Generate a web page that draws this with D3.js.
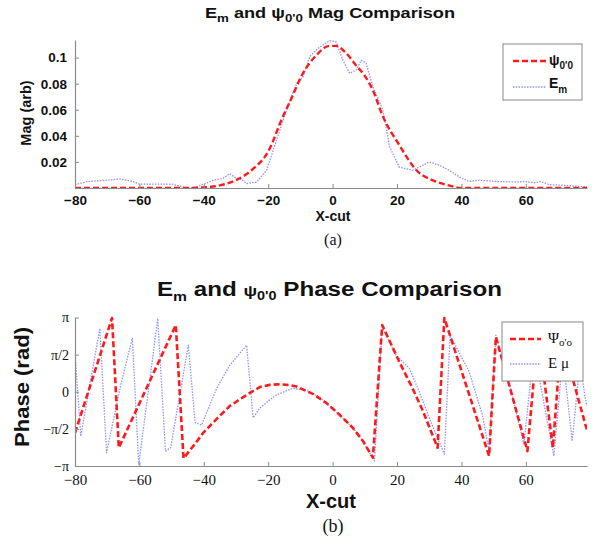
<!DOCTYPE html>
<html>
<head>
<meta charset="utf-8">
<script src="https://cdn.jsdelivr.net/npm/d3@7"></script>
<style>
  body { margin: 0; background: #fff; }
  svg { display: block; }
  .sans { font-family: "Liberation Sans", Arial, sans-serif; }
  .serif { font-family: "Liberation Serif", "Times New Roman", serif; }
</style>
</head>
<body>
<svg id="chart" width="598" height="540"></svg>
<script>
// x ticks shared by both panels
const xTicks = [-80, -60, -40, -20, 0, 20, 40, 60]

// (a) magnitude
const magTicks = [0.02, 0.04, 0.06, 0.08, 0.1]
const magPsiX = [-80, -45, -40, -35, -30, -25, -20, -15.4, -13.3, -9.2, -5, -1, 1, 4, 7.3, 10, 12.5, 15.6, 20.7, 25.9, 32, 36, 40, 79]
const magPsi = [0, 0, 0.0005, 0.002, 0.006, 0.014, 0.028, 0.055, 0.066, 0.088, 0.102, 0.109, 0.109, 0.104, 0.094, 0.086, 0.075, 0.055, 0.033, 0.014, 0.005, 0.002, 0, 0]
const magEmX = [-80, -76, -70, -66, -62, -60, -55, -50, -45, -42, -40, -37, -34, -32, -30, -28, -26.7, -23.6, -20.5, -17.4, -14.3, -11.2, -9.2, -7.1, -5, -4, -0.9, 1.1, 3.2, 5.3, 7.3, 8.9, 10.4, 12.5, 15.6, 17.7, 20.7, 24.8, 26.9, 30, 33.1, 36.2, 39.3, 42.4, 45.5, 50.7, 56.9, 59.4, 63, 64.6, 67.2, 72.3, 77.5, 79]
const magEm = [0.0026, 0.005, 0.006, 0.007, 0.005, 0.003, 0.003, 0.003, 0.0, 0.001, 0.003, 0.006, 0.0075, 0.011, 0.0078, 0.006, 0.0034, 0.0046, 0.0136, 0.0367, 0.0598, 0.080, 0.085, 0.1008, 0.106, 0.108, 0.113, 0.112, 0.098, 0.088, 0.0905, 0.098, 0.0957, 0.0777, 0.060, 0.0316, 0.016, 0.0136, 0.016, 0.020, 0.0175, 0.0136, 0.0085, 0.005, 0.006, 0.005, 0.0046, 0.005, 0.004, 0.005, 0.0026, 0.002, 0.001, 0.001]

// (b) phase
const phaseTicks = [-Math.PI, -Math.PI / 2, 0, Math.PI / 2, Math.PI]
const phaseTickLabels = ['\u2212\u03c0', '\u2212\u03c0/2', '0', '\u03c0/2', '\u03c0']
const phasePsiX = [-80, -68.5, -66.4, -48.7, -46.3, -43, -40.2, -36, -31.9, -28, -25.7, -22.6, -19.5, -16.4, -13.5, -11.2, -6, -2, 2, 6.3, 9.5, 12.5, 15.4, 20.7, 24.8, 28, 32.6, 34.7, 48.6, 50.7, 60.5, 63.8, 68.4, 71, 78.5, 79]
const phasePsi = [-1.74, 3.12, -2.37, 2.82, -2.82, -2.25, -1.74, -1.15, -0.6, -0.25, -0.05, 0.2, 0.29, 0.32, 0.28, 0.22, -0.1, -0.47, -0.95, -1.53, -2.1, -2.79, 2.82, 1.27, 0.15, -0.8, -2.37, 3.12, -2.72, 2.32, -2.51, 2.6, -2.37, 2.3, -1.39, -1.6]
const phaseEmX = [-80, -78.2, -72.3, -70.2, -65.8, -62.2, -60.2, -54.3, -51.9, -50.3, -44.8, -42.7, -40.7, -36, -31.9, -26.7, -24.7, -22.6, -19.5, -17.4, -12.3, -8, -4, -2, 2, 6.3, 9.5, 13, 15.4, 19.7, 23.8, 26.9, 30, 34.7, 36.5, 42.4, 46.5, 48.6, 50.7, 55, 59.4, 62.5, 68.7, 71.5, 74.4, 76.8, 78.5, 79]
const phaseEm = [1.62, -1.88, 2.68, -2.58, 0.29, 2.26, -3.07, 3.1, -2.51, -2.37, 1.97, -1.31, -1.41, 0.15, 1.13, 1.97, -1.1, -0.69, -0.34, -0.13, 0.15, 0.05, -0.25, -0.47, -0.95, -1.53, -2.1, -2.93, 2.74, 1.55, 1.0, 0.0, -1.1, -2.65, 2.39, 0.85, -0.97, -2.51, 2.39, 0.3, -2.23, 1.8, -2.72, 1.5, -2.09, 1.2, -0.3, -0.6]

const RED = '#ff1a1a'
const BLUE = '#9090ff'
const AXIS = '#8a8a8a'

const svg = d3.select('#chart')

const x = d3.scaleLinear().domain([-80, 79]).range([75, 587])
const yMag = d3.scaleLinear().domain([0, 0.1135]).range([188, 40])
const yPhase = d3.scaleLinear().domain([-Math.PI, Math.PI]).range([466, 317.5])

const zip = (xs, ys) => xs.map((v, i) => [v, ys[i]])

function panel(id, yScale, top, bottom, series) {
  svg.append('clipPath').attr('id', id)
    .append('rect').attr('x', 75).attr('y', top).attr('width', 512).attr('height', bottom - top)
  const g = svg.append('g').attr('clip-path', `url(#${id})`)
  series.forEach(s => {
    const line = d3.line().curve(s.curve || d3.curveLinear).x(d => x(d[0])).y(d => yScale(d[1]))
    g.append('path').datum(s.data)
      .attr('fill', 'none')
      .attr('stroke', s.color)
      .attr('stroke-width', s.width)
      .attr('stroke-dasharray', s.dash)
      .attr('stroke-linejoin', 'round')
      .attr('d', line)
  })
}

function styleAxis(g) {
  g.select('.domain').attr('stroke', AXIS).attr('stroke-width', 1.2)
  g.selectAll('.tick line').attr('stroke', AXIS)
  g.selectAll('.tick text').attr('fill', '#111')
}

// ---------- (a) ----------
panel('clipA', yMag, 38, 189, [
  { data: zip(magEmX, magEm), color: BLUE, width: 1.3, dash: '1.5,1.3' },
  { data: zip(magPsiX, magPsi), color: RED, width: 2.4, dash: '6,3', curve: d3.curveMonotoneX }
])

const axA = svg.append('g').attr('transform', 'translate(0,188)')
  .call(d3.axisBottom(x).tickValues(xTicks).tickSizeInner(-4).tickSizeOuter(0).tickPadding(7).tickFormat(d3.format('d')))
axA.selectAll('text').attr('class', 'sans').attr('font-size', 13.5).attr('font-weight', 'bold')
styleAxis(axA)

const ayA = svg.append('g').attr('transform', 'translate(75,0)')
  .call(d3.axisLeft(yMag).tickValues(magTicks).tickSizeInner(-4).tickSizeOuter(0).tickPadding(8).tickFormat(d => +d.toFixed(2) + ''))
ayA.selectAll('text').attr('class', 'sans').attr('font-size', 13.5).attr('font-weight', 'bold')
styleAxis(ayA)

const titleA = svg.append('text').attr('class', 'sans').attr('x', 205).attr('y', 18)
  .attr('textLength', 250).attr('lengthAdjust', 'spacingAndGlyphs')
  .attr('font-size', 15).attr('font-weight', 'bold').attr('fill', '#111')
titleA.append('tspan').text('E')
titleA.append('tspan').attr('dy', 4).attr('font-size', 11).text('m')
titleA.append('tspan').attr('dy', -4).text(' and \u03c8')
titleA.append('tspan').attr('dy', 4).attr('font-size', 11).text("0'0")
titleA.append('tspan').attr('dy', -4).text(' Mag Comparison')

svg.append('text').attr('class', 'sans').attr('transform', 'translate(31,113) rotate(-90)')
  .attr('text-anchor', 'middle').attr('font-size', 14.5).attr('font-weight', 'bold').attr('fill', '#111')
  .text('Mag (arb)')

svg.append('text').attr('class', 'sans').attr('x', 333).attr('y', 221)
  .attr('text-anchor', 'middle').attr('font-size', 14).attr('font-weight', 'bold').attr('fill', '#111')
  .text('X-cut')

svg.append('text').attr('class', 'serif').attr('x', 333).attr('y', 245)
  .attr('text-anchor', 'middle').attr('font-size', 16).attr('fill', '#111')
  .text('(a)')

// legend (a)
const legA = svg.append('g')
legA.append('rect').attr('x', 503).attr('y', 44).attr('width', 79).attr('height', 56)
  .attr('fill', '#fff').attr('stroke', '#888').attr('stroke-width', 1)
legA.append('line').attr('x1', 513).attr('x2', 546).attr('y1', 61).attr('y2', 61)
  .attr('stroke', RED).attr('stroke-width', 2.4).attr('stroke-dasharray', '6,3')
legA.append('line').attr('x1', 513).attr('x2', 546).attr('y1', 87).attr('y2', 87)
  .attr('stroke', BLUE).attr('stroke-width', 1.3).attr('stroke-dasharray', '1.5,1.3')
const la1 = legA.append('text').attr('class', 'sans').attr('x', 549).attr('y', 65)
  .attr('font-size', 14).attr('font-weight', 'bold').attr('fill', '#111')
la1.append('tspan').text('\u03c8')
la1.append('tspan').attr('dy', 4).attr('font-size', 10).text("0'0")
const la2 = legA.append('text').attr('class', 'sans').attr('x', 549).attr('y', 88)
  .attr('font-size', 14).attr('font-weight', 'bold').attr('fill', '#111')
la2.append('tspan').text('E')
la2.append('tspan').attr('dy', 5).attr('font-size', 10).text('m')

// ---------- (b) ----------
panel('clipB', yPhase, 315, 467, [
  { data: zip(phaseEmX, phaseEm), color: BLUE, width: 1.3, dash: '1.5,1.3' },
  { data: zip(phasePsiX, phasePsi), color: RED, width: 2.6, dash: '6,3' }
])

const axB = svg.append('g').attr('transform', 'translate(0,466)')
  .call(d3.axisBottom(x).tickValues(xTicks).tickSizeInner(-4).tickSizeOuter(0).tickPadding(8)
    .tickFormat(d => (d < 0 ? '\u2212' + Math.abs(d) : d + '')))
axB.selectAll('text').attr('class', 'serif').attr('font-size', 15)
styleAxis(axB)

const ayB = svg.append('g').attr('transform', 'translate(75,0)')
  .call(d3.axisLeft(yPhase).tickValues(phaseTicks).tickSizeInner(-4).tickSizeOuter(0).tickPadding(6)
    .tickFormat((d, i) => phaseTickLabels[i]))
ayB.selectAll('text').attr('class', 'serif').attr('font-size', 14)
styleAxis(ayB)

const titleB = svg.append('text').attr('class', 'sans').attr('x', 157).attr('y', 296)
  .attr('textLength', 345).attr('lengthAdjust', 'spacingAndGlyphs')
  .attr('font-size', 20).attr('font-weight', 'bold').attr('fill', '#111')
titleB.append('tspan').text('E')
titleB.append('tspan').attr('dy', 5).attr('font-size', 13).text('m')
titleB.append('tspan').attr('dy', -5).text(' and ')
titleB.append('tspan').attr('font-size', 15).text('\u03c8')
titleB.append('tspan').attr('dy', 4).attr('font-size', 12).text("0'0")
titleB.append('tspan').attr('dy', -4).text(' Phase Comparison')

svg.append('text').attr('class', 'sans').attr('transform', 'translate(29,387) rotate(-90)')
  .attr('text-anchor', 'middle').attr('font-size', 20).attr('font-weight', 'bold').attr('fill', '#111')
  .attr('textLength', 120).attr('lengthAdjust', 'spacingAndGlyphs')
  .text('Phase (rad)')

svg.append('text').attr('class', 'sans').attr('x', 331).attr('y', 508)
  .attr('text-anchor', 'middle').attr('font-size', 20).attr('font-weight', 'bold').attr('fill', '#111')
  .text('X-cut')

svg.append('text').attr('class', 'serif').attr('x', 333).attr('y', 532)
  .attr('text-anchor', 'middle').attr('font-size', 18).attr('fill', '#111')
  .text('(b)')

// legend (b)
const legB = svg.append('g')
legB.append('rect').attr('x', 502).attr('y', 322).attr('width', 81).attr('height', 59)
  .attr('fill', '#fff').attr('stroke', '#888').attr('stroke-width', 1)
legB.append('line').attr('x1', 510).attr('x2', 541).attr('y1', 339).attr('y2', 339)
  .attr('stroke', RED).attr('stroke-width', 2.6).attr('stroke-dasharray', '6,3')
legB.append('line').attr('x1', 510).attr('x2', 541).attr('y1', 364).attr('y2', 364)
  .attr('stroke', BLUE).attr('stroke-width', 1.3).attr('stroke-dasharray', '1.5,1.3')
const lb1 = legB.append('text').attr('class', 'serif').attr('x', 548).attr('y', 343)
  .attr('font-size', 15).attr('fill', '#111')
lb1.append('tspan').text('\u03a8')
lb1.append('tspan').attr('dy', 3).attr('font-size', 11).text("o'o")
legB.append('text').attr('class', 'serif').attr('x', 548).attr('y', 368)
  .attr('font-size', 15).attr('fill', '#111')
  .text('E \u03bc')
</script>
</body>
</html>
